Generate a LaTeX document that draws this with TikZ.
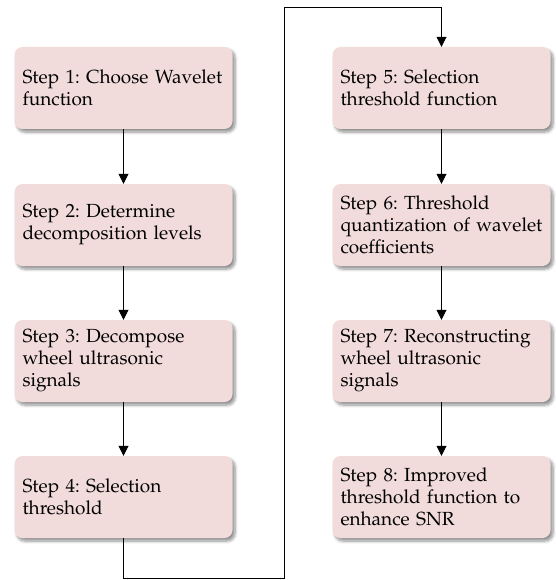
\documentclass[tikz,border=0pt]{standalone}
\usepackage[T1]{fontenc}
\usepackage{mathpazo}
\usetikzlibrary{arrows.meta,shadows.blur}
\definecolor{boxpink}{HTML}{F2DCDB}
\tikzset{
  stepbox/.style={rectangle, rounded corners=8pt, fill=boxpink, draw=none,
    text width=202pt, inner xsep=8pt, inner ysep=0pt, minimum height=82pt,
    align=left, font=\fontsize{19}{22}\selectfont\frenchspacing,
    blur shadow={shadow xshift=2.5pt, shadow yshift=-3pt, shadow blur steps=6, shadow opacity=45, shadow blur radius=3pt}},
  conn/.style={line width=0.8pt, -{Triangle[length=10pt,width=10pt]}},
  plain/.style={line width=0.8pt}
}
\begin{document}
\begin{tikzpicture}[x=1pt,y=-1pt]
\useasboundingbox (0,0) rectangle (555,580);
\node[stepbox] (s1) at (123.5,88) {Step 1: Choose Wavelet\\function};
\node[stepbox] (s2) at (123.5,225) {Step 2: Determine\\decomposition levels};
\node[stepbox] (s3) at (123.5,361) {Step 3: Decompose\\wheel ultrasonic\\signals};
\node[stepbox] (s4) at (123.5,497) {Step 4: Selection\\threshold};
\node[stepbox] (s5) at (441.5,88) {Step 5: Selection\\threshold function};
\node[stepbox] (s6) at (441.5,225) {Step 6: Threshold\\quantization of wavelet\\coefficients};
\node[stepbox] (s7) at (441.5,361) {Step 7: Reconstructing\\wheel ultrasonic\\signals};
\node[stepbox] (s8) at (441.5,497) {Step 8: Improved\\threshold function to\\enhance SNR};
\coordinate (c1) at (123.5,578);
\coordinate (c2) at (284,578);
\coordinate (c3) at (284,7);
\coordinate (c4) at (441.5,7);
\draw[conn] (s1) -- (s2);
\draw[conn] (s2) -- (s3);
\draw[conn] (s3) -- (s4);
\draw[conn] (s5) -- (s6);
\draw[conn] (s6) -- (s7);
\draw[conn] (s7) -- (s8);
\draw[conn] (s4.south) -- (c1) -- (c2) -- (c3) -- (c4) -- (s5.north);
\end{tikzpicture}
\end{document}
